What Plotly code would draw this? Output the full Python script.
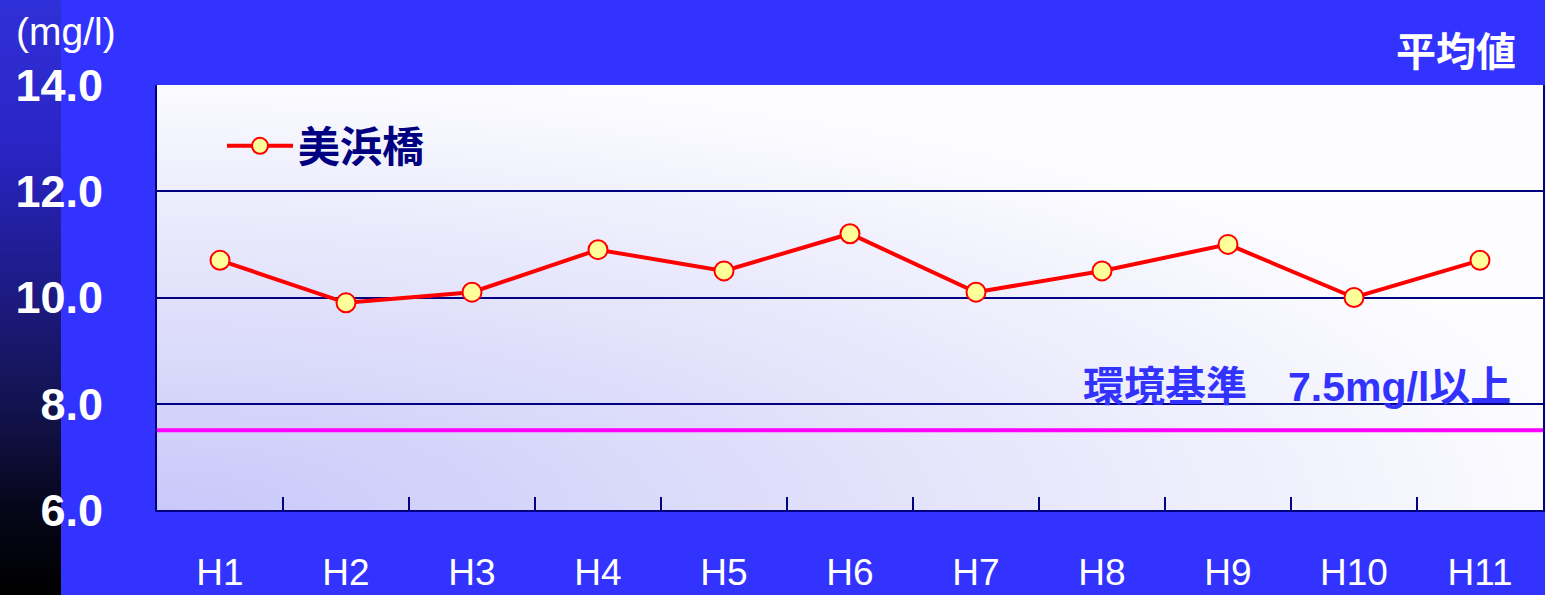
import base64
import plotly.graph_objects as go

# ---- data ----
years = ["H1", "H2", "H3", "H4", "H5", "H6", "H7", "H8", "H9", "H10", "H11"]
do_mihama = [10.7, 9.9, 10.1, 10.9, 10.5, 11.2, 10.1, 10.5, 11.0, 10.0, 10.7]
series_name = "美浜橋"
standard_value = 7.5
standard_label = "環境基準\u30007.5mg/l以上"
y_ticks = [6, 8, 10, 12, 14]
y_tick_text = ["6.0", "8.0", "10.0", "12.0", "14.0"]
unit_label = "(mg/l)"
title_label = "平均値"

FONT = "Liberation Sans, Arial, Noto Sans CJK JP, sans-serif"
NAVY = "#000080"


def svg_uri(svg):
    return "data:image/svg+xml;base64," + base64.b64encode(svg.encode("utf-8")).decode()


plot_bg_svg = (
    '<svg xmlns="http://www.w3.org/2000/svg" width="100" height="100" viewBox="0 0 100 100" '
    'preserveAspectRatio="none">'
    '<defs><radialGradient id="g" gradientUnits="userSpaceOnUse" cx="0" cy="100" r="105">'
    '<stop offset="0" stop-color="#c8c8fa"/><stop offset="0.5" stop-color="#e2e2fb"/>'
    '<stop offset="1" stop-color="#fdfdff"/></radialGradient></defs>'
    '<rect x="0" y="0" width="100" height="100" fill="url(#g)"/></svg>'
)

strip_svg = (
    '<svg xmlns="http://www.w3.org/2000/svg" width="100" height="100" viewBox="0 0 100 100" '
    'preserveAspectRatio="none">'
    '<defs><linearGradient id="s" x1="0" y1="0" x2="0" y2="1">'
    '<stop offset="0" stop-color="#3030d8"/><stop offset="0.25" stop-color="#2a24c4"/>'
    '<stop offset="0.5" stop-color="#1c1a80"/><stop offset="0.7" stop-color="#12124a"/>'
    '<stop offset="0.85" stop-color="#06061a"/><stop offset="1" stop-color="#000000"/>'
    '</linearGradient></defs>'
    '<rect x="0" y="0" width="100" height="100" fill="url(#s)"/></svg>'
)

fig = go.Figure()
fig.add_trace(go.Scatter(
    x=years, y=do_mihama, name=series_name, mode="lines+markers",
    line=dict(color="#ff0000", width=4),
    marker=dict(size=19, color="#ffff99", line=dict(color="#ff0000", width=2)),
))

W, H = 1545, 595
L, R, T, B = 157, 2, 85, 85
pw, ph = W - L - R, H - T - B

fig.update_layout(
    width=W, height=H,
    margin=dict(l=L, r=R, t=T, b=B, autoexpand=False),
    paper_bgcolor="#3333ff",
    plot_bgcolor="rgba(0,0,0,0)",
    font=dict(family=FONT, color="white"),
    showlegend=True,
    legend=dict(
        x=(222 - L) / pw, y=1 - (112 - T) / ph, xanchor="left", yanchor="top",
        bgcolor="rgba(0,0,0,0)",
        font=dict(size=42, color=NAVY, family=FONT, weight="bold"),
        itemwidth=66,
    ),
    xaxis=dict(
        type="category", categoryorder="array", categoryarray=years,
        range=[-0.5, len(years) - 0.5],
        showgrid=False, showline=True, linecolor=NAVY, linewidth=2,
        ticks="inside", tickson="boundaries", ticklen=13, tickwidth=2, tickcolor=NAVY,
        tickfont=dict(size=37, color="white", family=FONT),
        ticklabelstandoff=29, automargin=False,
        zeroline=False,
    ),
    yaxis=dict(
        range=[6, 14], tickvals=y_ticks, ticktext=y_tick_text,
        showgrid=True, gridcolor=NAVY, gridwidth=2,
        showline=True, linecolor=NAVY, linewidth=2, mirror=True,
        ticks="", tickfont=dict(size=45, color="white", family=FONT, weight="bold"),
        ticklabelstandoff=43, automargin=False,
        zeroline=False,
    ),
    images=[
        dict(source=svg_uri(plot_bg_svg), xref="paper", yref="paper", x=0, y=1,
             sizex=1, sizey=1, sizing="stretch", layer="below", xanchor="left", yanchor="top"),
        dict(source=svg_uri(strip_svg), xref="paper", yref="paper", x=-L / pw, y=1 + T / ph,
             sizex=61 / pw, sizey=H / ph, sizing="stretch", layer="below",
             xanchor="left", yanchor="top"),
    ],
    shapes=[
        dict(type="line", xref="paper", yref="y", x0=0, x1=1, y0=standard_value, y1=standard_value,
             line=dict(color="#ff00ff", width=4), layer="above"),
    ],
    annotations=[
        dict(text=standard_label, xref="paper", yref="y", x=(1513 - L) / pw,
             y=14 - (387 - T) / (ph / 8), xanchor="right", yanchor="middle", showarrow=False,
             font=dict(size=41, color="#3333ff", family=FONT, weight="bold")),
        dict(text=title_label, xref="paper", yref="paper", x=(1518 - L) / pw,
             y=1 + (T - 52) / ph, xanchor="right", yanchor="middle", showarrow=False,
             font=dict(size=40, color="white", family=FONT, weight="bold")),
        dict(text=unit_label, xref="paper", yref="paper", x=(14 - L) / pw,
             y=1 + (T - 31) / ph, xanchor="left", yanchor="middle", showarrow=False,
             font=dict(size=39, color="white", family=FONT)),
    ],
)

fig.write_html("out.html", config={"displayModeBar": False},
               post_script="document.body.style.margin='0';")
